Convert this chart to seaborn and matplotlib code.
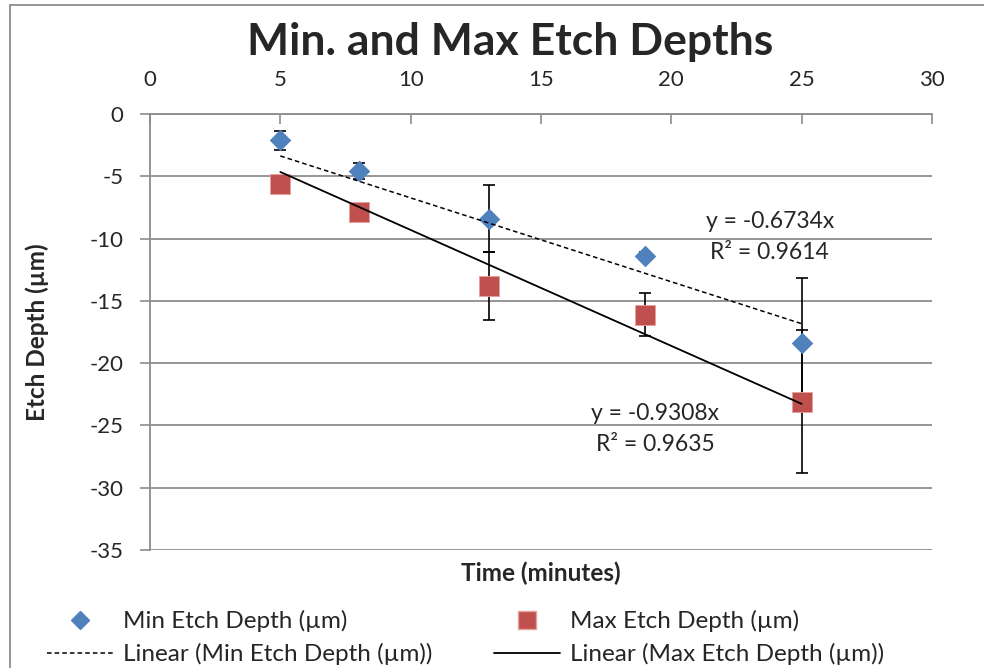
import matplotlib
matplotlib.use("Agg")
import matplotlib.pyplot as plt
import seaborn as sns
import numpy as np
import pandas as pd
from matplotlib.lines import Line2D
from matplotlib.patches import Rectangle

# ---- data ----
times = [5, 8, 13, 19, 25]
min_depth = [-2.1, -4.6, -8.4, -11.4, -18.4]
max_depth = [-5.6, -7.9, -13.8, -16.1, -23.1]
min_err = [0.75, 0.65, 2.7, 0.3, 5.2]
max_err = [0.5, 0.5, 2.75, 1.7, 5.75]
min_slope = -0.6734
max_slope = -0.9308
min_r2 = 0.9614
max_r2 = 0.9635
x_ticks = [0, 5, 10, 15, 20, 25, 30]
y_ticks = [0, -5, -10, -15, -20, -25, -30, -35]

sns.set_style("white")
plt.rcParams['font.family'] = ['Lato', 'DejaVu Sans']

BLUE = "#4F81BD"
RED = "#C0504D"
GRID = "#8C8C8C"

fig = plt.figure(figsize=(9.84, 6.68), dpi=100)
W, H = 984, 668
ax = fig.add_axes([150 / W, 1 - 550 / H, (932 - 150) / W, (550 - 114) / H])

df = pd.DataFrame({"t": times, "mn": min_depth, "mx": max_depth})

# error bars (behind markers)
ax.errorbar(times, min_depth, yerr=min_err, fmt="none", ecolor="black",
            elinewidth=1.2, capsize=4.3, capthick=1.2, zorder=2)
ax.errorbar(times, max_depth, yerr=max_err, fmt="none", ecolor="black",
            elinewidth=1.2, capsize=4.3, capthick=1.2, zorder=2)

sns.scatterplot(data=df, x="t", y="mn", ax=ax, marker="D", s=11 ** 2,
                color=BLUE, edgecolor=BLUE, linewidth=0, zorder=3)
sns.scatterplot(data=df, x="t", y="mx", ax=ax, marker="s", s=14 ** 2,
                color=RED, edgecolor="#E8A09E", linewidth=0.6, zorder=3)

# trendlines (through origin, as in the chart)
tx = np.array([times[0], times[-1]])
trend = pd.DataFrame({"t": tx, "mn": min_slope * tx, "mx": max_slope * tx})
sns.lineplot(data=trend, x="t", y="mn", ax=ax, color="black", lw=1.1,
             linestyle=(0, (3, 2)), zorder=4)
sns.lineplot(data=trend, x="t", y="mx", ax=ax, color="black", lw=1.3, zorder=4)

ax.text(23.78, -9.9, f"y = {min_slope}x\nR² = {min_r2}", ha="center", va="center",
        fontsize=16.5, linespacing=1.6, zorder=5)
ax.text(19.37, -25.3, f"y = {max_slope}x\nR² = {max_r2}", ha="center", va="center",
        fontsize=16.5, linespacing=1.6, zorder=5)

ax.set_xlim(0, 30)
ax.set_ylim(-35, 0)
ax.set_xticks(x_ticks)
ax.set_yticks(y_ticks)
ax.set_xticklabels([str(v) for v in x_ticks])
ax.set_yticklabels([str(v) for v in y_ticks])
ax.xaxis.tick_top()
ax.tick_params(axis="x", direction="in", length=7, width=1.2, color=GRID,
               labelsize=16, pad=17.5)
ax.tick_params(axis="y", direction="out", length=7, width=1.2, color=GRID,
               labelsize=16, pad=12, left=True)
ax.yaxis.grid(True, color=GRID, lw=1.3)
ax.xaxis.grid(False)
for s in ["right", "bottom"]:
    ax.spines[s].set_visible(False)
for s in ["top", "left"]:
    ax.spines[s].set_color(GRID)
    ax.spines[s].set_linewidth(1.3)

ax.set_xlabel("Time (minutes)", fontsize=17.5, fontweight="bold")
ax.xaxis.set_label_position("bottom")
ax.xaxis.set_label_coords(0.5, -(573 - 550) / 436)
ax.xaxis.label.set_va("center")
ax.set_ylabel("Etch Depth (µm)", fontsize=17.5, fontweight="bold")
ax.yaxis.set_label_coords((37 - 150) / 782, 0.5)
ax.yaxis.label.set_va("center")

fig.text(510 / W, 1 - 42 / H, "Min. and Max Etch Depths", ha="center",
         va="center", fontsize=32, fontweight="bold")

handles = [
    Line2D([], [], marker="D", color=BLUE, linestyle="none", markersize=9.5),
    Line2D([], [], color="black", lw=1.1, linestyle=(0, (3, 2))),
    Line2D([], [], marker="s", color=RED, markeredgecolor="#E8A09E",
           linestyle="none", markersize=13),
    Line2D([], [], color="black", lw=1.3),
]
labels = ["Min Etch Depth (µm)", "Linear (Min Etch Depth (µm))",
          "Max Etch Depth (µm)", "Linear (Max Etch Depth (µm))"]
fig.legend(handles, labels, ncol=2, loc="upper left",
           bbox_to_anchor=(47 / W, 1 - 610 / H), frameon=False,
           fontsize=17.5, handlelength=2.72, handletextpad=0.41,
           columnspacing=2.52, borderpad=0, borderaxespad=0, labelspacing=0.45)

fig.patches.append(Rectangle((10 / W, -0.1), 1.2, 1.1 - 5.5 / H,
                             transform=fig.transFigure, fill=False,
                             edgecolor="#8C8C8C", lw=1.3))

fig.savefig("out.png", dpi=100)
